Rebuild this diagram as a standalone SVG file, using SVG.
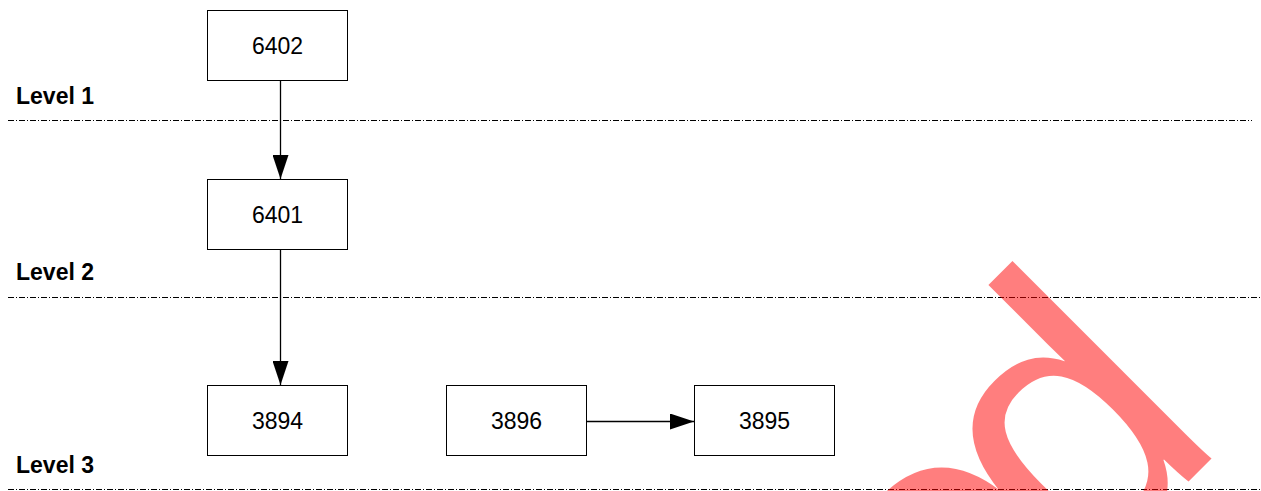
<svg xmlns="http://www.w3.org/2000/svg" width="1261" height="491" viewBox="0 0 1261 491">
<defs>
<style>
.box{fill:#fff;stroke:#000;stroke-width:1}
.lbl{font-family:"Liberation Sans",Arial,sans-serif;font-size:23px;text-anchor:middle}
.lvl{font-family:"Liberation Sans",Arial,sans-serif;font-size:23px;font-weight:bold}
.sep{stroke:#000;stroke-width:1;stroke-dasharray:6 2 1 2;fill:none}
.con{stroke:#000;stroke-width:1.3;fill:none}
.wm{font-family:"Liberation Sans Narrow","Liberation Sans",Arial,sans-serif;font-size:387px;fill:#ff0000}
</style>
<marker id="ah" viewBox="0 0 24 16" refX="24" refY="8" markerWidth="24" markerHeight="16" markerUnits="userSpaceOnUse" orient="auto">
<path d="M0,0 L24,8 L0,16 Z" fill="#000"/>
</marker>
</defs>
<rect width="1261" height="491" fill="#fff"/>
<g id="separators">
<line class="sep" x1="8" y1="120.5" x2="1252" y2="120.5"/>
<line class="sep" x1="8" y1="297.5" x2="1261" y2="297.5"/>
<line class="sep" x1="8" y1="489.5" x2="1261" y2="489.5"/>
</g>
<g id="levels">
<text class="lvl" x="16" y="104">Level 1</text>
<text class="lvl" x="16" y="280">Level 2</text>
<text class="lvl" x="16" y="473">Level 3</text>
</g>
<g id="connectors">
<line class="con" x1="280.5" y1="80" x2="280.5" y2="179" marker-end="url(#ah)"/>
<line class="con" x1="280.5" y1="249" x2="280.5" y2="385" marker-end="url(#ah)"/>
<line class="con" x1="586" y1="421.5" x2="694" y2="421.5" marker-end="url(#ah)"/>
</g>
<g id="n6402"><rect class="box" x="207.5" y="10.5" width="140" height="70"/><text class="lbl" x="277.5" y="53.5">6402</text></g>
<g id="n6401"><rect class="box" x="207.5" y="179.5" width="140" height="70"/><text class="lbl" x="277.5" y="222.5">6401</text></g>
<g id="n3894"><rect class="box" x="207.5" y="385.5" width="140" height="70"/><text class="lbl" x="277.5" y="428.5">3894</text></g>
<g id="n3896"><rect class="box" x="446.5" y="385.5" width="140" height="70"/><text class="lbl" x="516.5" y="428.5">3896</text></g>
<g id="n3895"><rect class="box" x="694.5" y="385.5" width="140" height="70"/><text class="lbl" x="764.5" y="428.5">3895</text></g>
<g id="watermark" opacity="0.5">
<text class="wm" transform="translate(1077,593) rotate(-45)">d</text>
<text class="wm" transform="translate(952,720) rotate(-45)">e</text>
</g>
</svg>
